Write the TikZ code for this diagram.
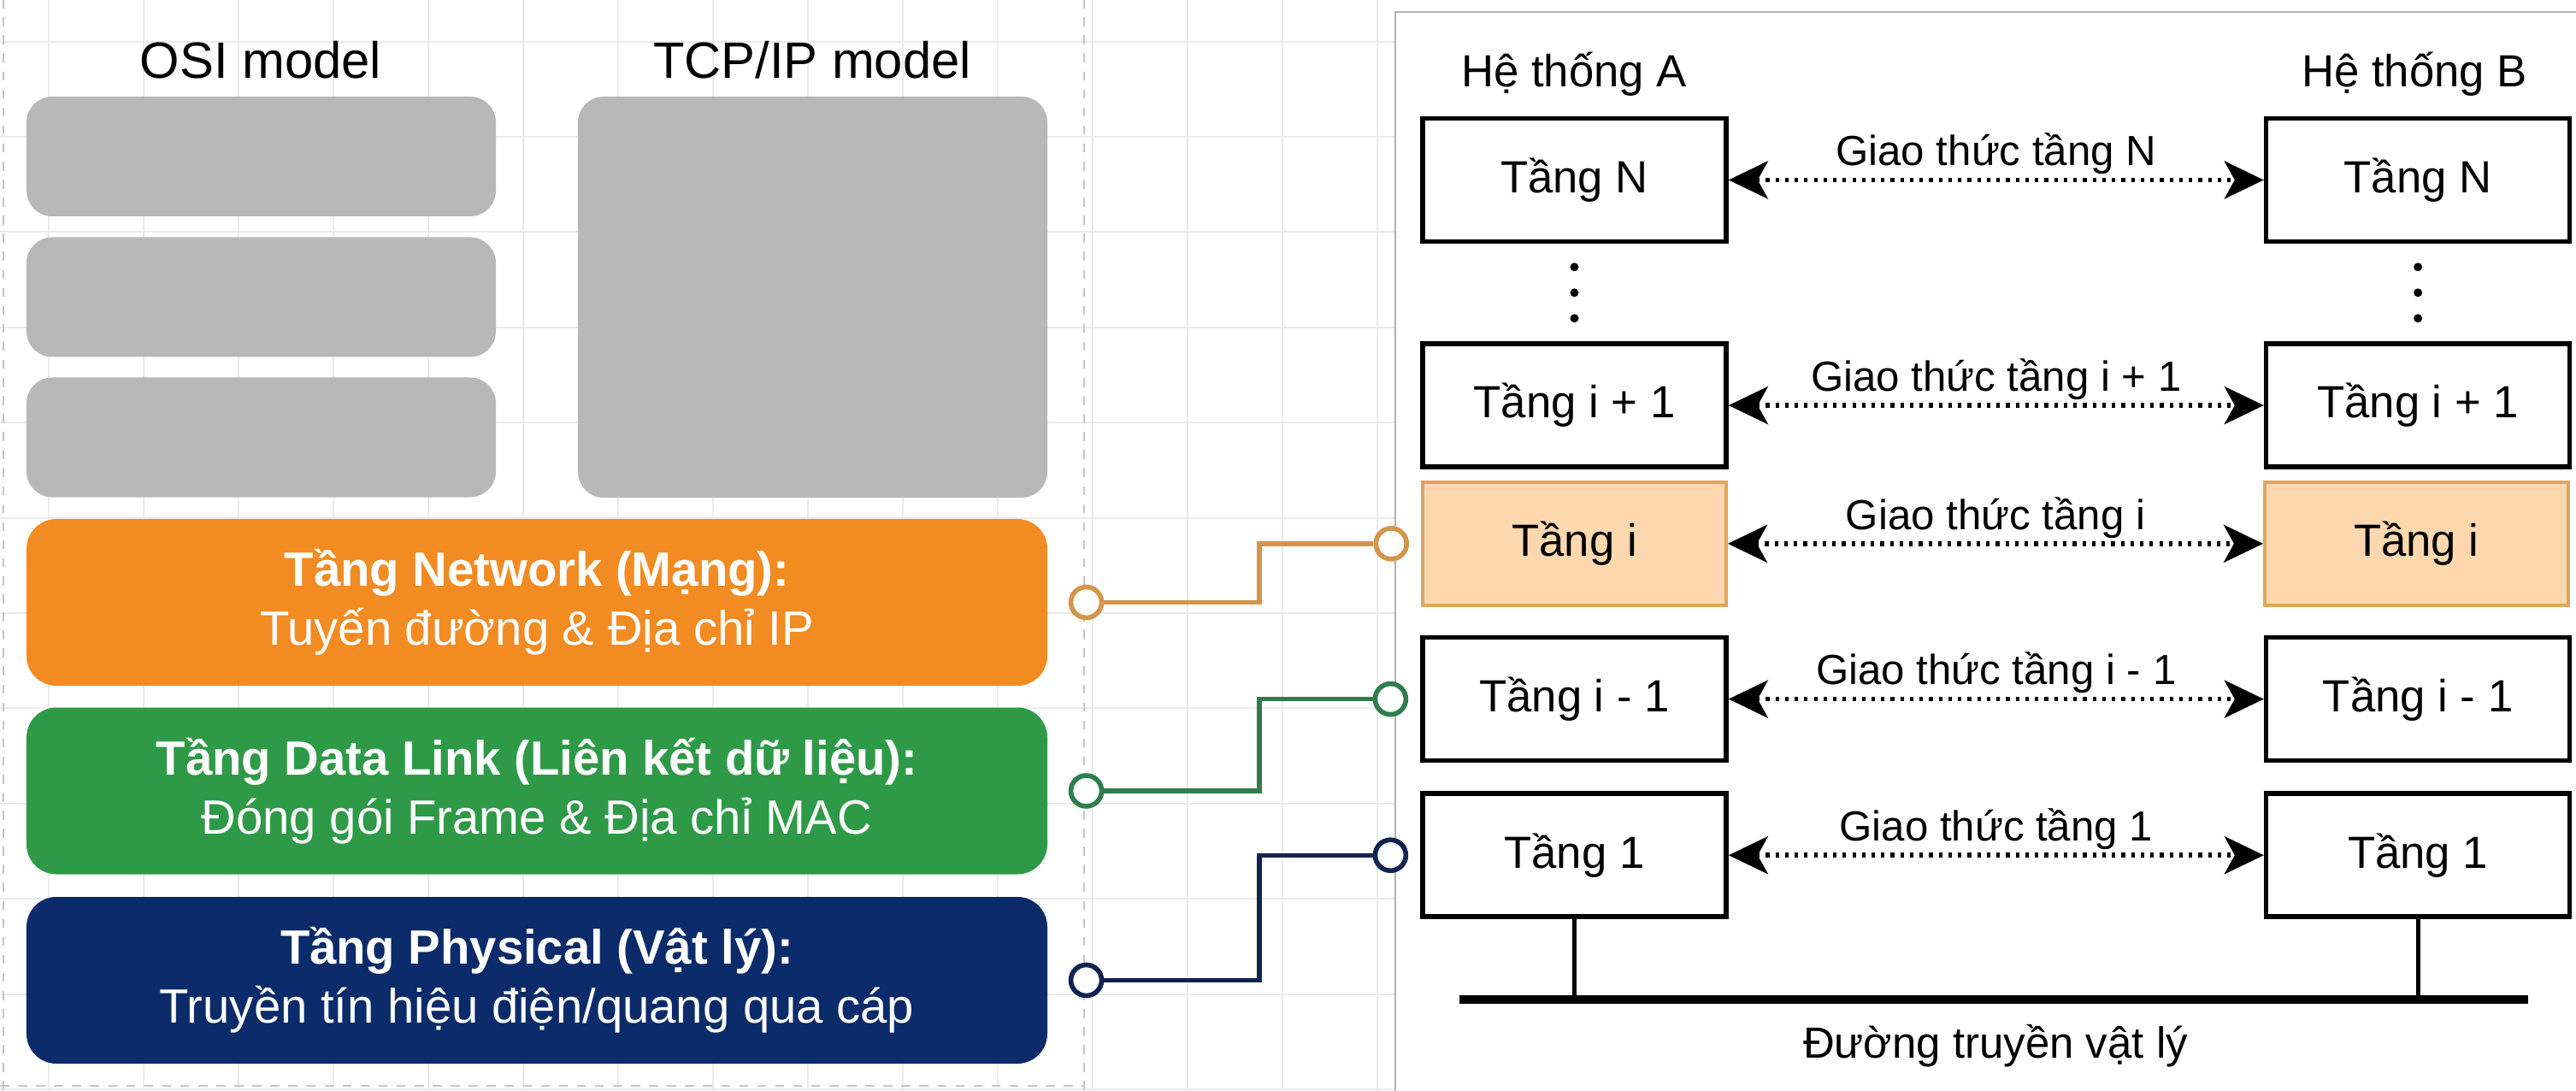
\documentclass[tikz,border=0pt]{standalone}
\usepackage{fontspec}
\setmainfont{Liberation Sans}
\usepackage{xcolor}
\usetikzlibrary{
arrows.meta,
positioning,
calc
}
\definecolor{OSIgray}{HTML}{B8B8B8}
\definecolor{NetOrange}{HTML}{F28B22}
\definecolor{LinkGreen}{HTML}{2E9A47}
\definecolor{PhysNavy}{HTML}{0C2B6A}
\definecolor{NetWire}{HTML}{D4954A}
\definecolor{LinkWire}{HTML}{2F7D4B}
\definecolor{PhysWire}{HTML}{0F2450}
\definecolor{PeachFill}{HTML}{FDD8AE}
\definecolor{PeachLine}{HTML}{E0A55C}
\definecolor{GridGray}{HTML}{EBEBEB}

\begin{document}
\begin{tikzpicture}[
    x=1cm,
    y=1cm,
    gridline/.style={GridGray, line width=0.6pt},
    panelline/.style={gray!45, line width=0.8pt, dashed},
    greybox/.style={fill=OSIgray, rounded corners=0.3cm, inner sep=0pt},
    tierbox/.style={
        rounded corners=0.35cm,
        minimum width=11.94cm,
        minimum height=1.95cm,
        inner sep=0pt,
        text=white,
        align=center,
        font=\fontsize{16}{19.6}\selectfont
    },
    layerbox/.style={
        draw=black,
        line width=1.6pt,
        fill=white,
        minimum width=3.55cm,
        minimum height=1.44cm,
        inner sep=0pt,
        font=\fontsize{15}{18}\selectfont
    },
    focusbox/.style={layerbox, fill=PeachFill, draw=PeachLine, line width=1.1pt},
    protoline/.style={
        line width=1.6pt,
        dash pattern=on 1.2pt off 2pt,
        {Stealth[length=4.6mm, width=4.4mm, inset=1.2mm]}-{Stealth[length=4.6mm, width=4.4mm, inset=1.2mm]}
    },
    protolabel/.style={anchor=base, yshift=4.8pt, font=\fontsize{14}{16}\selectfont},
    pin/.style={circle, draw, fill=white, line width=1.6pt, minimum size=0.36cm, inner sep=0pt},
    wire/.style={line width=1.5pt}
]

% Page and background grid
\path[use as bounding box, clip] (0,0) rectangle (30.13,12.75);
\fill[white] (0,0) rectangle (30.13,12.75);
\foreach \gx in {0.57,1.68,...,16.2}{
    \draw[gridline] (\gx,0) -- (\gx,12.75);
}
\foreach \gy in {0.01,1.124,...,12.3}{
    \draw[gridline] (0,\gy) -- (16.4,\gy);
}

% Left panel border
\draw[panelline] (0.04,0) -- (0.04,12.75);
\draw[panelline] (12.68,0) -- (12.68,12.75);
\draw[panelline] (0,0.05) -- (12.68,0.05);

% Right panel
\draw[
    gray!60,
    line width=0.8pt,
    fill=white
]
(16.32,-0.3) rectangle (30.5,12.61);

% Model headings
\node[font=\fontsize{17}{20}\selectfont] (osiTitle) at (3.05,12.05) {OSI model};
\node[font=\fontsize{17}{20}\selectfont] (tcpTitle) at (9.50,12.05) {TCP/IP model};

% Grey placeholder layers
\node[greybox, minimum width=5.49cm, minimum height=1.40cm] (osiTop) at (3.055,10.92) {};
\node[greybox, minimum width=5.49cm, minimum height=1.40cm] (osiMid) at (3.055,9.275) {};
\node[greybox, minimum width=5.49cm, minimum height=1.40cm] (osiLow) at (3.055,7.635) {};
\node[greybox, minimum width=5.49cm, minimum height=4.69cm] (tcpTop) at (9.505,9.275) {};

% Highlighted lower layers
\node[tierbox, fill=NetOrange] (net) at (6.28,5.705)
{{\bfseries Tầng Network (Mạng):}\\Tuyến đường \& Địa chỉ IP};
\node[tierbox, fill=LinkGreen] (link) at (6.28,3.50)
{{\bfseries Tầng Data Link (Liên kết dữ liệu):}\\Đóng gói Frame \& Địa chỉ MAC};
\node[tierbox, fill=PhysNavy] (phys) at (6.28,1.285)
{{\bfseries Tầng Physical (Vật lý):}\\Truyền tín hiệu điện/quang qua cáp};

% System A stack
\node[layerbox] (aN) at (18.415,10.645) {Tầng N};
\node[layerbox, below=1.14cm of aN] (aUp) {Tầng i + 1};
\node[focusbox, below=0.13cm of aUp] (aI) {Tầng i};
\node[layerbox, below=0.33cm of aI] (aDown) {Tầng i - 1};
\node[layerbox, below=0.33cm of aDown] (aOne) {Tầng 1};

% System B stack
\node[layerbox, right=6.26cm of aN] (bN) {Tầng N};
\node[layerbox, right=6.26cm of aUp] (bUp) {Tầng i + 1};
\node[focusbox, right=6.26cm of aI] (bI) {Tầng i};
\node[layerbox, right=6.26cm of aDown] (bDown) {Tầng i - 1};
\node[layerbox, right=6.26cm of aOne] (bOne) {Tầng 1};

\node[font=\fontsize{15}{18}\selectfont] (sysA) at (18.41,11.88) {Hệ thống A};
\node[font=\fontsize{15}{18}\selectfont] (sysB) at (28.24,11.88) {Hệ thống B};

% Vertical ellipsis
\foreach \col in {aN,bN}{
    \foreach \dy in {0.27,0.57,0.87}{
        \fill ($(\col.south)+(0,-\dy)$) circle (0.05);
    }
}

% Peer protocols
\draw[protoline] (aN) -- node[protolabel] {Giao thức tầng N} (bN);
\draw[protoline] (aUp) -- node[protolabel] {Giao thức tầng i + 1} (bUp);
\draw[protoline] (aI) -- node[protolabel] {Giao thức tầng i} (bI);
\draw[protoline] (aDown) -- node[protolabel] {Giao thức tầng i - 1} (bDown);
\draw[protoline] (aOne) -- node[protolabel] {Giao thức tầng 1} (bOne);

% Physical medium
\coordinate (busL) at (17.07,1.06);
\coordinate (busR) at (29.57,1.06);
\draw[line width=2.8pt] (busL) -- (busR);
\draw[line width=1.4pt] (aOne.south) -- (aOne.south |- busL);
\draw[line width=1.4pt] (bOne.south) -- (bOne.south |- busL);
\node[font=\fontsize{14.5}{17}\selectfont] (medium) at (23.34,0.52) {Đường truyền vật lý};

% Mapping wires
\coordinate (bend) at (14.73,0);
\node[pin, draw=NetWire, right=0.24cm of net] (pNet) {};
\node[pin, draw=LinkWire, right=0.24cm of link] (pLink) {};
\node[pin, draw=PhysWire, right=0.24cm of phys] (pPhys) {};
\node[pin, draw=NetWire, left=0.14cm of aI] (qNet) {};
\node[pin, draw=LinkWire, left=0.14cm of aDown] (qLink) {};
\node[pin, draw=PhysWire, left=0.14cm of aOne] (qPhys) {};

\draw[wire, NetWire] (pNet) -- (pNet -| bend) |- (qNet);
\draw[wire, LinkWire] (pLink) -- (pLink -| bend) |- (qLink);
\draw[wire, PhysWire] (pPhys) -- (pPhys -| bend) |- (qPhys);

\end{tikzpicture}
\end{document}
